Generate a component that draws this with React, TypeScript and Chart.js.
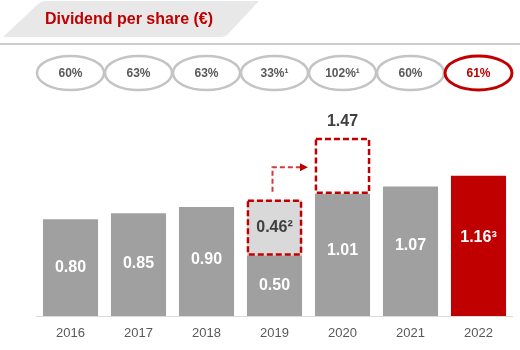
import React, { useEffect, useRef } from "react";
import { Chart, registerables } from "chart.js";

Chart.register(...registerables);

const years = ["2016", "2017", "2018", "2019", "2020", "2021", "2022"];
const dividends = [0.8, 0.85, 0.9, 0.5, 1.01, 1.07, 1.16];
const dividendLabels = ["0.80", "0.85", "0.90", "0.50", "1.01", "1.07", "1.16³"];
const extraValues = [0, 0, 0, 0.46, 0.46, 0, 0];
const extraLabels = ["", "", "", "0.46²", "1.47", "", ""];
const payoutRatios = ["60%", "63%", "63%", "33%¹", "102%¹", "60%", "61%"];
const titleText = "Dividend per share (€)";

const RED = "#c00000";
const GRAY = "#a0a0a0";
const FONT = "'Liberation Sans', Arial, sans-serif";

const overlayPlugin = {
  id: "overlay",
  beforeDraw(chart: any) {
    const ctx = chart.ctx;
    ctx.save();
    // title tab
    ctx.fillStyle = "#e8e8e8";
    ctx.beginPath();
    ctx.moveTo(3, 37);
    ctx.lineTo(38, 4);
    ctx.quadraticCurveTo(41, 1, 46, 1);
    ctx.lineTo(259, 1);
    ctx.lineTo(229, 33);
    ctx.quadraticCurveTo(226, 37, 220, 37);
    ctx.closePath();
    ctx.fill();
    ctx.strokeStyle = "#cccccc";
    ctx.lineWidth = 2;
    ctx.beginPath();
    ctx.moveTo(0, 44);
    ctx.lineTo(520, 44);
    ctx.stroke();
    ctx.fillStyle = RED;
    ctx.font = `bold 16px ${FONT}`;
    ctx.textBaseline = "middle";
    ctx.textAlign = "left";
    ctx.fillText(titleText, 45, 20);

    // payout ellipses
    const xs = chart.scales.x;
    payoutRatios.forEach((t, i) => {
      const cx = xs.getPixelForValue(i);
      const last = i === payoutRatios.length - 1;
      ctx.beginPath();
      ctx.ellipse(cx, 73, 33.5, 17, 0, 0, Math.PI * 2);
      ctx.strokeStyle = last ? RED : "#c4c4c4";
      ctx.lineWidth = last ? 3 : 2.5;
      ctx.fillStyle = "#ffffff";
      ctx.fill();
      ctx.stroke();
      ctx.fillStyle = last ? RED : "#595959";
      ctx.font = `bold 12px ${FONT}`;
      ctx.textAlign = "center";
      ctx.fillText(t, cx, 74);
    });
    ctx.restore();
  },
  afterDatasetsDraw(chart: any) {
    const ctx = chart.ctx;
    const ys = chart.scales.y;
    const xs = chart.scales.x;
    const baseMeta = chart.getDatasetMeta(0);
    const extraMeta = chart.getDatasetMeta(1);
    ctx.save();

    // value labels inside bars
    ctx.textAlign = "center";
    ctx.textBaseline = "middle";
    ctx.font = `bold 16px ${FONT}`;
    ctx.fillStyle = "#ffffff";
    baseMeta.data.forEach((bar: any, i: number) => {
      const mid = (bar.y + bar.base) / 2;
      const h = bar.base - bar.y;
      const shift = Math.max(0, (h - 100) * 0.2);
      ctx.fillText(dividendLabels[i], bar.x, mid - shift);
    });

    // dashed boxes
    ctx.setLineDash([6, 3]);
    ctx.strokeStyle = RED;
    ctx.lineWidth = 2.5;
    extraMeta.data.forEach((bar: any, i: number) => {
      if (!extraValues[i]) return;
      const w = bar.width;
      ctx.strokeRect(bar.x - w / 2 + 1, bar.y + 1, w - 2, bar.base - bar.y - 2);
    });

    // labels for extra segments
    ctx.setLineDash([]);
    ctx.fillStyle = "#404040";
    ctx.font = `bold 16px ${FONT}`;
    extraMeta.data.forEach((bar: any, i: number) => {
      if (!extraLabels[i]) return;
      if (i === 3) {
        ctx.fillText(extraLabels[i], bar.x, (bar.y + bar.base) / 2);
      } else {
        ctx.fillText(extraLabels[i], bar.x, bar.y - 17);
      }
    });

    // dashed arrow from 2019 to 2020
    const b19 = extraMeta.data[3];
    const b20 = extraMeta.data[4];
    const arrowY = ys.getPixelForValue((dividends[4] + dividends[4] + extraValues[4]) / 2 - 0.01);
    const startX = xs.getPixelForValue(3) - 2;
    const startY = b19.y - 8;
    const tipX = b20.x - b20.width / 2 - 7;
    ctx.strokeStyle = "#d23a3a";
    ctx.lineWidth = 2;
    ctx.setLineDash([5, 3]);
    ctx.beginPath();
    ctx.moveTo(startX, startY);
    ctx.lineTo(startX, arrowY);
    ctx.lineTo(tipX - 7, arrowY);
    ctx.stroke();
    ctx.setLineDash([]);
    ctx.fillStyle = RED;
    ctx.beginPath();
    ctx.moveTo(tipX, arrowY);
    ctx.lineTo(tipX - 8, arrowY - 4);
    ctx.lineTo(tipX - 8, arrowY + 4);
    ctx.closePath();
    ctx.fill();
    ctx.restore();
  },
};

export default function App() {
  const ref = useRef<HTMLCanvasElement>(null);
  useEffect(() => {
    if (!ref.current) return;
    const chart = new Chart(ref.current, {
      type: "bar",
      data: {
        labels: years,
        datasets: [
          {
            data: dividends,
            backgroundColor: dividends.map((_, i) => (i === dividends.length - 1 ? RED : GRAY)),
            borderWidth: 0,
          },
          {
            data: extraValues,
            backgroundColor: extraValues.map((_, i) => (i === 3 ? "#d9d9d9" : "#ffffff")),
            borderWidth: 0,
          },
        ],
      },
      options: {
        responsive: false,
        animation: false,
        layout: { padding: { left: 36.5, right: 7.5, top: 100, bottom: 8 } },
        datasets: { bar: { categoryPercentage: 1, barPercentage: 0.81 } },
        plugins: { legend: { display: false }, tooltip: { enabled: false } },
        scales: {
          x: {
            stacked: true,
            grid: { display: false, drawTicks: false },
            border: { display: true, color: "#d9d9d9", width: 1 },
            ticks: { color: "#595959", font: { family: FONT, size: 13 }, padding: 10 },
            afterFit: (scale: any) => {
              scale.height = 26;
            },
          },
          y: {
            stacked: true,
            display: false,
            min: 0,
            max: 1.785,
          },
        },
      },
      plugins: [overlayPlugin],
    });
    return () => chart.destroy();
  }, []);
  return (
    <div style={{ position: "fixed", left: 0, top: 0, width: 520, height: 350, background: "#fff" }}>
      <canvas ref={ref} width={520} height={350} style={{ width: 520, height: 350 }} />
    </div>
  );
}
